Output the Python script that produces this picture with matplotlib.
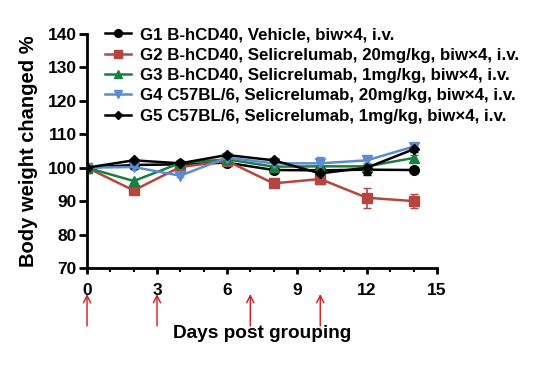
import numpy as np
import matplotlib.pyplot as plt

plt.rcParams['font.family'] = 'Liberation Sans'
plt.rcParams['font.weight'] = 'bold'

# data
days = [0, 2, 4, 6, 8, 10, 12, 14]
g1 = [100, 100.8, 101.0, 101.5, 99.3, 99.2, 99.4, 99.3]
g2 = [100, 93.2, 100.2, 102.0, 95.3, 96.6, 91.0, 90.0]
g3 = [100, 96.0, 101.4, 102.5, 100.3, 100.4, 100.4, 102.9]
g4 = [100, 100.2, 97.6, 103.0, 101.3, 101.3, 102.2, 106.3]
g5 = [100, 102.2, 101.3, 103.8, 102.2, 98.3, 100.0, 105.5]
g1_err = [0, 0.5, 0.5, 0.5, 0.5, 0.8, 1.5, 0.5]
g2_err = [0, 1.0, 0.5, 0.5, 0.8, 1.5, 3.0, 2.0]
g3_err = [0, 0.6, 0.5, 0.5, 0.5, 0.5, 0.6, 0.8]
g4_err = [0, 0.5, 0.5, 0.5, 0.5, 2.0, 0.8, 1.0]
g5_err = [0, 0.5, 0.5, 0.5, 0.5, 0.6, 0.6, 0.8]
dose_days = [0, 3, 7, 10]

labels = ['G1 B-hCD40, Vehicle, biw\u00d74, i.v.',
          'G2 B-hCD40, Selicrelumab, 20mg/kg, biw\u00d74, i.v.',
          'G3 B-hCD40, Selicrelumab, 1mg/kg, biw\u00d74, i.v.',
          'G4 C57BL/6, Selicrelumab, 20mg/kg, biw\u00d74, i.v.',
          'G5 C57BL/6, Selicrelumab, 1mg/kg, biw\u00d74, i.v.']
colors = ['black', '#b5463f', '#178040', '#5b8bd0', 'black']
markers = ['o', 's', '^', 'v', 'D']
msizes = [7, 7, 7, 7, 5]

fig = plt.figure(figsize=(5.44, 3.66), dpi=100)
ax = fig.add_axes([0.16, 0.268, 0.643, 0.639])

series = [(g1, g1_err), (g2, g2_err), (g3, g3_err), (g4, g4_err), (g5, g5_err)]
handles = []
for (vals, err), c, m, ms, lab in zip(series, colors, markers, msizes, labels):
    h = ax.errorbar(days, vals, yerr=err, color=c, marker=m, markersize=ms,
                    linewidth=1.8, capsize=3, elinewidth=1.2, label=lab)
    handles.append(h[0])  # line + marker only for the legend

ax.set_xlim(0, 15)
ax.set_ylim(70, 140)
ax.set_xticks([0, 3, 6, 9, 12, 15])
ax.set_xticks(np.arange(0, 16, 1), minor=True)
ax.set_yticks(np.arange(70, 141, 10))
for s in ['top', 'right']:
    ax.spines[s].set_visible(False)
for s in ['left', 'bottom']:
    ax.spines[s].set_linewidth(2)
ax.tick_params(axis='x', which='major', length=4, width=2, labelsize=12.5, pad=7)
ax.tick_params(axis='x', which='minor', length=3, width=1.5)
ax.tick_params(axis='y', which='major', length=6, width=2, labelsize=12.5, pad=1.5)
ax.tick_params(axis='y', which='minor', length=0)

ax.set_ylabel('Body weight changed %', fontsize=14.5, fontweight='bold')
ax.yaxis.set_label_coords(-0.14, 0.5)
ax.set_xlabel('Days post grouping', fontsize=13.7, fontweight='bold')
ax.xaxis.set_label_coords(0.5, -0.245)

# dosing arrows below the axis
for d in dose_days:
    ax.annotate('', xy=(d, -0.1), xytext=(d, -0.26),
                xycoords=ax.get_xaxis_transform(),
                arrowprops=dict(arrowstyle='->', color='#cc1a1a', lw=1,
                                mutation_scale=13),
                annotation_clip=False)

fig.legend(handles, labels, loc='upper left', bbox_to_anchor=(0.178, 0.949),
           frameon=False, handlelength=1.5, handletextpad=0.55,
           labelspacing=0.32, borderpad=0, markerscale=0.8,
           prop={'weight': 'bold', 'size': 12.2})

plt.savefig('out.png', dpi=100)
